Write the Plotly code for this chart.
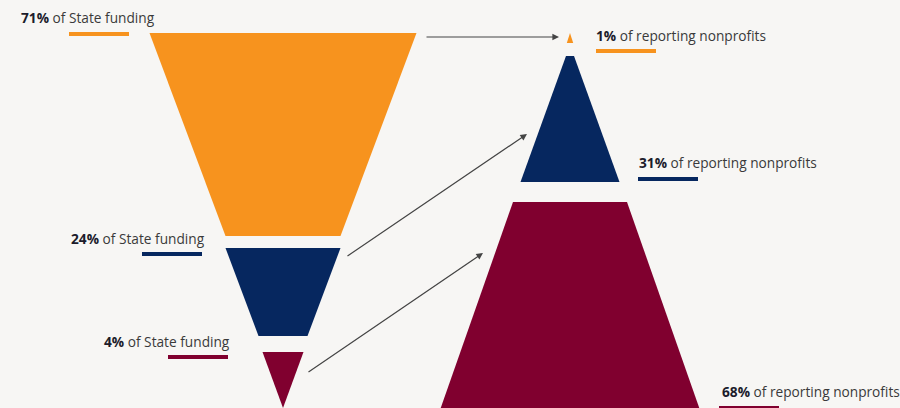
import plotly.graph_objects as go

# ---- data ----
left_values = [71, 24, 4]
left_labels = ["of State funding", "of State funding", "of State funding"]
right_values = [1, 31, 68]
right_labels = ["of reporting nonprofits", "of reporting nonprofits", "of reporting nonprofits"]
colors = ["#F7931E", "#06275F", "#80002F"]

# ---- layout geometry (pixel space, y downwards) ----
W, H = 900, 408
BG = "#F7F6F4"
# left (inverted) funnel: center, and segments (top y, bottom y, top half-width, bottom half-width)
left_cx = 283
left_segs = [(33, 236, 133.5, 57.5), (248, 336, 57.5, 24.5), (352, 408, 20.5, 0)]
# right (upright) funnel
right_cx = 570
right_segs = [(33, 43, 0, 3.2), (56, 182, 4, 49.5), (202, 430, 57, 137)]

# label positions: (x, y, anchor)
left_text_pos = [(19, 17, "left"), (207, 238, "right"), (232, 341, "right")]
left_bar_pos = [(69, 129, 34), (142, 202, 254), (168, 228, 357)]
right_text_pos = [(594, 35, "left"), (637, 162, "left"), (720, 391, "left")]
right_bar_pos = [(596, 656, 51), (638, 698, 179), (719, 779, 408)]
arrows = [((425, 37), (559, 37)), ((346, 257), (527, 134)), ((307, 373), (483, 253))]

fig = go.Figure()

def add_seg(cx, seg, color):
    y0, y1, h0, h1 = seg
    xs = [cx - h0, cx + h0, cx + h1, cx - h1, cx - h0]
    ys = [y0, y0, y1, y1, y0]
    fig.add_trace(go.Scatter(x=xs, y=ys, mode="lines", fill="toself",
                             fillcolor=color, line=dict(width=0, color=color),
                             hoverinfo="skip", showlegend=False))

for seg, c in zip(left_segs, colors):
    add_seg(left_cx, seg, c)
for seg, c in zip(right_segs, colors):
    add_seg(right_cx, seg, c)

annotations = []
shapes = []
FONT = "Open Sans"

def label(v, txt, pos):
    x, y, anchor = pos
    annotations.append(dict(
        x=x, y=y, xref="x", yref="y", xanchor=anchor, yanchor="middle",
        showarrow=False,
        text=f"<b><span style='color:#1c1c2b'>{v}%</span></b> {txt}",
        font=dict(family=FONT, size=13.7, color="#3a3a3a")))

for v, t, p, b, c in zip(left_values, left_labels, left_text_pos, left_bar_pos, colors):
    label(v, t, p)
    shapes.append(dict(type="line", xref="x", yref="y", x0=b[0], x1=b[1], y0=b[2], y1=b[2],
                       line=dict(color=c, width=4)))
for v, t, p, b, c in zip(right_values, right_labels, right_text_pos, right_bar_pos, colors):
    label(v, t, p)
    shapes.append(dict(type="line", xref="x", yref="y", x0=b[0], x1=b[1], y0=b[2], y1=b[2],
                       line=dict(color=c, width=4)))

for (s, e) in arrows:
    annotations.append(dict(
        x=e[0], y=e[1], ax=s[0], ay=s[1], xref="x", yref="y", axref="x", ayref="y",
        showarrow=True, arrowhead=2, arrowsize=1.1, arrowwidth=1.2, arrowcolor="#444444",
        text=""))

fig.update_layout(
    width=W, height=H, margin=dict(l=0, r=0, t=0, b=0),
    paper_bgcolor=BG, plot_bgcolor=BG,
    xaxis=dict(range=[0, W], visible=False, fixedrange=True),
    yaxis=dict(range=[H, 0], visible=False, fixedrange=True),
    annotations=annotations, shapes=shapes, showlegend=False,
)

fig.write_html("out.html", config={"displayModeBar": False},
               post_script="document.body.style.margin='0';document.body.style.overflow='hidden';document.body.style.background='#F7F6F4';")
